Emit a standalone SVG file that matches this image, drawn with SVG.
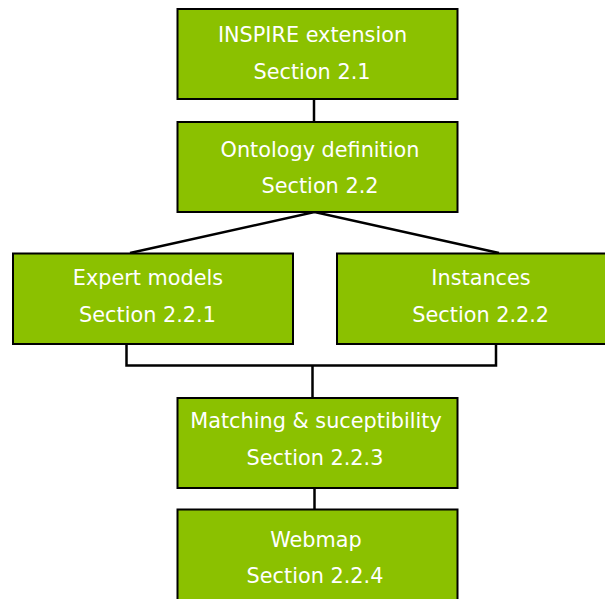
<svg xmlns="http://www.w3.org/2000/svg" width="605" height="599" viewBox="0 0 605 599">
<style>
.box{fill:#8bc100;stroke:#000;stroke-width:2}
.t{font-family:"DejaVu Sans",sans-serif;font-size:20.8px;fill:#fff;text-anchor:middle}
.c{stroke:#000;stroke-width:2.5;fill:none}
</style>
<rect width="605" height="599" fill="#fff"/>
<g id="connectors">
<line class="c" x1="314" y1="99" x2="314" y2="122"/>
<polyline class="c" points="130,253 314.5,212 499,253"/>
<polyline class="c" points="126.5,344 126.5,365.5 496,365.5 496,344"/>
<line class="c" x1="312.5" y1="365.5" x2="312.5" y2="398"/>
<line class="c" x1="314.5" y1="488" x2="314.5" y2="509"/>
</g>
<g id="inspire">
<rect class="box" x="177.5" y="9" width="280" height="90"/>
<text class="t" x="312.5" y="42">INSPIRE extension</text>
<text class="t" x="312" y="79">Section 2.1</text>
</g>
<g id="ontology">
<rect class="box" x="177.5" y="122" width="280" height="90"/>
<text class="t" x="320" y="156.5">Ontology definition</text>
<text class="t" x="320" y="193.3">Section 2.2</text>
</g>
<g id="expert">
<rect class="box" x="13" y="253.5" width="280" height="90.5"/>
<text class="t" x="148" y="285">Expert models</text>
<text class="t" x="147.5" y="321.7">Section 2.2.1</text>
</g>
<g id="instances">
<rect class="box" x="337" y="253.5" width="280" height="90.5"/>
<text class="t" x="481" y="285">Instances</text>
<text class="t" x="480.7" y="321.7">Section 2.2.2</text>
</g>
<g id="matching">
<rect class="box" x="177.5" y="398" width="280" height="90"/>
<text class="t" x="316" y="428.3">Matching &amp; suceptibility</text>
<text class="t" x="315" y="465">Section 2.2.3</text>
</g>
<g id="webmap">
<rect class="box" x="177.5" y="509.5" width="280" height="100"/>
<text class="t" x="316" y="546.7">Webmap</text>
<text class="t" x="315" y="583.3">Section 2.2.4</text>
</g>
</svg>
